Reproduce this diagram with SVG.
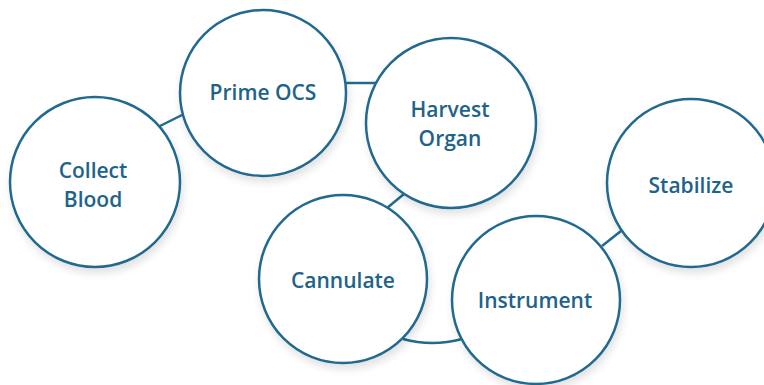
<svg xmlns="http://www.w3.org/2000/svg" width="764" height="385" viewBox="0 0 764 385">
<defs>
<filter id="sh" x="-20%" y="-20%" width="140%" height="150%">
<feGaussianBlur in="SourceAlpha" stdDeviation="4"/>
<feOffset dx="2" dy="5" result="b"/>
<feComponentTransfer><feFuncA type="linear" slope="0.12"/></feComponentTransfer>
<feMerge><feMergeNode/><feMergeNode in="SourceGraphic"/></feMerge>
</filter>
</defs>
<style>
.n{fill:#ffffff;stroke:#22698f;stroke-width:2.5;filter:url(#sh)}
.c{fill:none;stroke:#22698f;stroke-width:2.5}
.t{font-family:"Open Sans","Noto Sans","Liberation Sans",sans-serif;font-weight:600;font-size:21px;fill:#1e6389;text-anchor:middle}
</style>
<rect width="764" height="385" fill="#ffffff"/>
<g id="connectors">
<line class="c" x1="158" y1="127" x2="184" y2="114"/>
<line class="c" x1="346" y1="83" x2="376" y2="83"/>
<line class="c" x1="387" y1="208" x2="404" y2="194"/>
<path class="c" d="M403,339 Q432,347 462,339"/>
<line class="c" x1="602" y1="246" x2="621" y2="231"/>
</g>
<g id="collect-blood"><circle class="n" cx="95" cy="182" r="85"/><text class="t" x="93" y="178">Collect</text><text class="t" x="93" y="207">Blood</text></g>
<g id="prime-ocs"><circle class="n" cx="263" cy="93" r="83"/><text class="t" x="263" y="100">Prime OCS</text></g>
<g id="harvest-organ"><circle class="n" cx="451" cy="123" r="85"/><text class="t" x="450" y="117">Harvest</text><text class="t" x="450" y="146">Organ</text></g>
<g id="cannulate"><circle class="n" cx="343" cy="279" r="84"/><text class="t" x="343" y="288">Cannulate</text></g>
<g id="instrument"><circle class="n" cx="536" cy="300" r="84"/><text class="t" x="535" y="308">Instrument</text></g>
<g id="stabilize"><circle class="n" cx="691" cy="183" r="84"/><text class="t" x="691" y="193">Stabilize</text></g>
</svg>
